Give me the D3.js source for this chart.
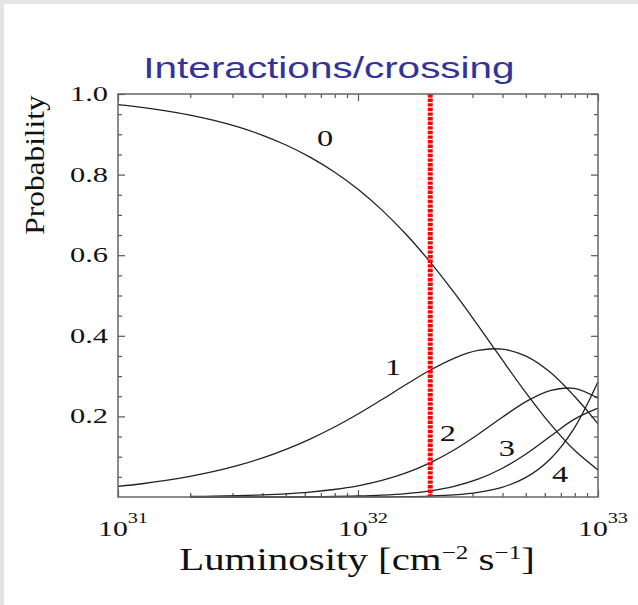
<!DOCTYPE html>
<html>
<head>
<meta charset="utf-8">
<script src="https://cdn.jsdelivr.net/npm/d3@7"></script>
<style>
  html, body { margin: 0; padding: 0; background: #e4e4e4; }
  svg { display: block; }
</style>
</head>
<body>
<svg id="chart" width="638" height="605"></svg>
<script>
// Luminosity grid, cm^-2 s^-1 (tenth-of-a-decade steps)
const luminosity = [1.000e31, 1.259e31, 1.585e31, 1.995e31, 2.512e31, 3.162e31, 3.981e31,
  5.012e31, 6.310e31, 7.943e31, 1.000e32, 1.259e32, 1.585e32, 1.995e32, 2.512e32,
  3.162e32, 3.981e32, 5.012e32, 6.310e32, 7.943e32, 1.000e33];

// Probability of n interactions per crossing (4 = four or more)
const prob0 = [0.9734, 0.9666, 0.9581, 0.9476, 0.9344, 0.9182, 0.8981, 0.8734, 0.8434, 0.8070,
  0.7634, 0.7118, 0.6519, 0.5835, 0.5075, 0.4258, 0.3413, 0.2584, 0.1820, 0.1171, 0.0672];
const prob1 = [0.0263, 0.0329, 0.0410, 0.0511, 0.0634, 0.0784, 0.0965, 0.1182, 0.1437, 0.1731,
  0.2061, 0.2420, 0.2790, 0.3144, 0.3442, 0.3636, 0.3669, 0.3497, 0.3101, 0.2511, 0.1815];
const prob2 = [null, null, null, 0.0014, 0.0021, 0.0033, 0.0052, 0.0080, 0.0122, 0.0186,
  0.0278, 0.0411, 0.0597, 0.0847, 0.1167, 0.1552, 0.1972, 0.2366, 0.2641, 0.2693, 0.2450];
const prob3 = [null, null, null, 0.0000, 0.0000, 0.0001, 0.0002, 0.0004, 0.0007, 0.0013,
  0.0025, 0.0047, 0.0085, 0.0152, 0.0264, 0.0442, 0.0707, 0.1067, 0.1500, 0.1925, 0.2205];
const prob4 = [null, null, null, 0.0000, 0.0000, 0.0000, 0.0000, 0.0000, 0.0000, 0.0001,
  0.0002, 0.0004, 0.0010, 0.0023, 0.0051, 0.0113, 0.0239, 0.0486, 0.0938, 0.1699, 0.2858];

const curveNames = ["0", "1", "2", "3", "4"];
// Where each curve's number is written (luminosity, probability)
const labelLuminosity = [7.3e31, 1.40e32, 2.37e32, 4.17e32, 6.95e32];
const labelProbability = [0.893, 0.323, 0.161, 0.122, 0.057];

const yTickValues = [0.2, 0.4, 0.6, 0.8, 1.0];
const yTickLabels = ["0.2", "0.4", "0.6", "0.8", "1.0"];
const xTickValues = [1e31, 1e32, 1e33];
const xTickExponents = ["31", "32", "33"];
const markerLuminosity = 2.0e32;   // current running point

const titleText = "Interactions/crossing";
const yTitle = "Probability";

const svg = d3.select("#chart");
const W = 638, H = 605;
const STRETCH = 1.35;   // horizontal widening of the lettering

// slide background
svg.append("rect").attr("x", 0).attr("y", 0).attr("width", W).attr("height", H).attr("fill", "#e4e4e4");
svg.append("rect").attr("x", 4).attr("y", 4).attr("width", W - 4).attr("height", H - 4).attr("fill", "#ffffff");

const plot = { left: 118, right: 598, top: 94, bottom: 497 };
const x = d3.scaleLog().domain([1e31, 1e33]).range([plot.left, plot.right]);
const y = d3.scaleLinear().domain([0, 1]).range([plot.bottom, plot.top]);

// minor tick positions
const xMinor = [];
[1e31, 1e32].forEach(d => { for (let k = 2; k <= 9; k++) xMinor.push(k * d); });
const yMinor = d3.range(1, 20).map(i => +(i * 0.05).toFixed(2)).filter(v => Math.abs(v * 5 - Math.round(v * 5)) > 1e-6);

const tickColor = "#555";
function styleAxis(g) {
  g.select(".domain").remove();
  g.selectAll("line").attr("stroke", tickColor).attr("stroke-width", 1.2);
  g.selectAll("text").remove();
}
const axes = svg.append("g");
axes.append("g").attr("transform", `translate(0,${plot.bottom})`)
  .call(d3.axisBottom(x).tickValues(xTickValues).tickSize(-7).tickFormat("")).call(styleAxis);
axes.append("g").attr("transform", `translate(0,${plot.bottom})`)
  .call(d3.axisBottom(x).tickValues(xMinor).tickSize(-4).tickFormat("")).call(styleAxis);
axes.append("g").attr("transform", `translate(0,${plot.top})`)
  .call(d3.axisTop(x).tickValues(xTickValues).tickSize(-7).tickFormat("")).call(styleAxis);
axes.append("g").attr("transform", `translate(0,${plot.top})`)
  .call(d3.axisTop(x).tickValues(xMinor).tickSize(-4).tickFormat("")).call(styleAxis);
axes.append("g").attr("transform", `translate(${plot.left},0)`)
  .call(d3.axisLeft(y).tickValues(yTickValues).tickSize(-7).tickFormat("")).call(styleAxis);
axes.append("g").attr("transform", `translate(${plot.left},0)`)
  .call(d3.axisLeft(y).tickValues(yMinor).tickSize(-4).tickFormat("")).call(styleAxis);
axes.append("g").attr("transform", `translate(${plot.right},0)`)
  .call(d3.axisRight(y).tickValues(yTickValues).tickSize(-7).tickFormat("")).call(styleAxis);
axes.append("g").attr("transform", `translate(${plot.right},0)`)
  .call(d3.axisRight(y).tickValues(yMinor).tickSize(-4).tickFormat("")).call(styleAxis);

// curves
const series = [prob0, prob1, prob2, prob3, prob4];
const line = d3.line()
  .defined(d => d[1] !== null)
  .x(d => x(d[0]))
  .y(d => y(d[1]))
  .curve(d3.curveCatmullRom);
const curves = svg.append("g");
series.forEach(vals => {
  curves.append("path")
    .datum(luminosity.map((L, i) => [L, vals[i]]))
    .attr("d", line)
    .attr("fill", "none")
    .attr("stroke", "#222")
    .attr("stroke-width", 1.3);
});

// marker line
svg.append("line")
  .attr("x1", x(markerLuminosity)).attr("x2", x(markerLuminosity))
  .attr("y1", y(1)).attr("y2", y(0))
  .attr("stroke", "#ff0000").attr("stroke-width", 5)
  .attr("stroke-dasharray", "3.4,1.2");

// frame
svg.append("rect")
  .attr("x", plot.left).attr("y", plot.top)
  .attr("width", plot.right - plot.left).attr("height", plot.bottom - plot.top)
  .attr("fill", "none").attr("stroke", "#666").attr("stroke-width", 1.5);

const serif = "'Liberation Serif', 'Times New Roman', serif";

// curve numbers
curveNames.forEach((name, i) => {
  svg.append("text")
    .attr("transform", `translate(${x(labelLuminosity[i])},${y(labelProbability[i])}) scale(${STRETCH},1)`)
    .attr("text-anchor", "middle").attr("dy", "0.35em")
    .attr("font-family", serif).attr("font-size", 24).attr("fill", "#111")
    .text(name);
});

// y tick labels
yTickValues.forEach((v, i) => {
  svg.append("text")
    .attr("transform", `translate(${plot.left - 10},${y(v)}) scale(1.45,1)`)
    .attr("text-anchor", "end").attr("dy", "0.33em")
    .attr("font-family", serif).attr("font-size", 21).attr("fill", "#111")
    .text(yTickLabels[i]);
});

// x tick labels: 10^n
xTickValues.forEach((v, i) => {
  const t = svg.append("text")
    .attr("transform", `translate(${x(v) + 5},536) scale(${STRETCH},1)`)
    .attr("text-anchor", "middle")
    .attr("font-family", serif).attr("font-size", 22).attr("fill", "#111");
  t.append("tspan").text("10");
  t.append("tspan").attr("font-size", 15).attr("dy", -13).text(xTickExponents[i]);
});

// axis titles
const xt = svg.append("text")
  .attr("transform", `translate(357,570) scale(1.32,1)`)
  .attr("text-anchor", "middle")
  .attr("font-family", serif).attr("font-size", 31).attr("fill", "#111");
xt.append("tspan").text("Luminosity [cm");
xt.append("tspan").attr("font-size", 19).attr("dy", -11).text("\u22122");
xt.append("tspan").attr("dy", 11).text(" s");
xt.append("tspan").attr("font-size", 19).attr("dy", -11).text("\u22121");
xt.append("tspan").attr("dy", 11).text("]");

svg.append("text")
  .attr("transform", `translate(44,165) rotate(-90) scale(1.12,1)`)
  .attr("text-anchor", "middle")
  .attr("font-family", serif).attr("font-size", 28).attr("fill", "#111")
  .text(yTitle);

// title
svg.append("text")
  .attr("transform", `translate(329,78) scale(1.35,1)`)
  .attr("text-anchor", "middle")
  .attr("font-family", "'Liberation Sans', Arial, sans-serif").attr("font-size", 30)
  .attr("fill", "#333399")
  .text(titleText);
</script>
</body>
</html>
